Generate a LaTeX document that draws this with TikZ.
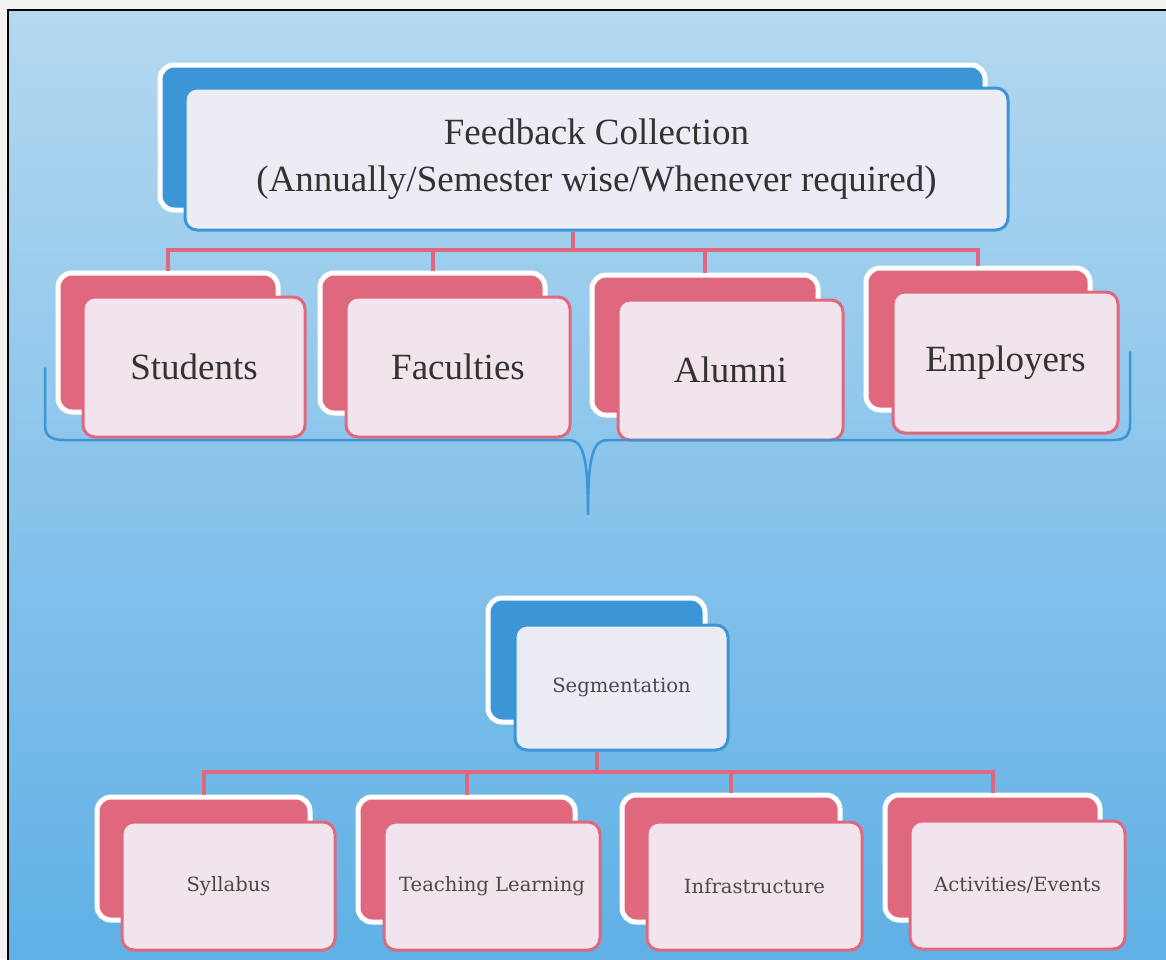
\documentclass[tikz,border=0pt]{standalone}
\usepackage{fontspec}
\setmainfont{Liberation Serif}
\newfontfamily\segfont{DejaVu Serif}
\usepackage{xcolor}
\usepackage{tikz}
\usetikzlibrary{calc}
\definecolor{paper}{HTML}{F2F2F0}
\definecolor{skytop}{HTML}{B4D8F0}
\definecolor{skymid}{HTML}{88C4EA}
\definecolor{skybot}{HTML}{5EB0E6}
\definecolor{rose}{HTML}{E0687E}
\definecolor{ocean}{HTML}{3B95D6}
\definecolor{blush}{HTML}{F2E4EC}
\definecolor{mist}{HTML}{ECECF4}
\definecolor{ink}{HTML}{333333}
\definecolor{inksoft}{HTML}{4A4A4A}
\newcommand\bigtxt{\fontsize{37}{47}\selectfont}
\newcommand\segtxt{\segfont\fontsize{19.6}{23}\selectfont}
\tikzset{
  backred/.style={rectangle, rounded corners=14pt, fill=rose, draw=white, line width=5pt},
  backblue/.style={rectangle, rounded corners=14pt, fill=ocean, draw=white, line width=5pt},
  frontred/.style={rectangle, rounded corners=12pt, fill=blush, draw=rose, line width=3pt, text=ink, font=\bigtxt, align=center},
  frontblue/.style={rectangle, rounded corners=12pt, fill=mist, draw=ocean, line width=3pt, text=ink, font=\bigtxt, align=center},
  frontsmall/.style={text=inksoft, font=\segtxt},
  link/.style={draw=rose, line width=4pt},
  brace/.style={draw=ocean, line width=2.5pt, line cap=round, line join=round},
}

\begin{document}
\begin{tikzpicture}[x=1pt, y=-1pt]
  \useasboundingbox (0,0) rectangle (1166,959);
  \clip (0,0) rectangle (1166,959);
  \fill[paper] (0,0) rectangle (1166,959);
  \shade[top color=skytop, middle color=skymid, bottom color=skybot] (8,10) rectangle (1180,975);
  \draw[black, line width=2pt] (8,975) -- (8,10) -- (1180,10);

  % connectors first, boxes cover their ends
  \coordinate (bus1) at (572.5,250);
  \coordinate (bus2) at (596.5,772);

  \node[backblue, minimum width=825pt, minimum height=145pt] (topB) at (572.5,137.5) {};
  \node[backred, minimum width=220pt, minimum height=139pt] (studB) at (168,342.5) {};
  \node[backred, minimum width=225pt, minimum height=140pt] (facB) at (432.5,343) {};
  \node[backred, minimum width=226pt, minimum height=140pt] (alumB) at (705,345) {};
  \node[backred, minimum width=224pt, minimum height=142pt] (emplB) at (978,339) {};

  \node[frontblue, minimum width=823pt, minimum height=142pt] (topF) at (596.5,159)
    {Feedback Collection\\(Annually/Semester wise/Whenever required)};
  \node[frontred, minimum width=222pt, minimum height=140pt] (studF) at (194,367) {Students};
  \node[frontred, minimum width=224pt, minimum height=140pt] (facF) at (458,367) {Faculties};
  \node[frontred, minimum width=225pt, minimum height=140pt] (alumF) at (730.5,370) {Alumni};
  \node[frontred, minimum width=225pt, minimum height=141pt] (emplF) at (1005.5,362.5) {Employers};

  \node[backblue, minimum width=217pt, minimum height=124pt] (segB) at (596.5,660) {};
  \node[frontblue, frontsmall, minimum width=213pt, minimum height=125pt] (segF) at (621.5,687.5) {Segmentation};

  \node[backred, minimum width=213pt, minimum height=123pt] (sylB) at (203.5,858.5) {};
  \node[backred, minimum width=217pt, minimum height=125pt] (teachB) at (466.5,859.5) {};
  \node[backred, minimum width=218pt, minimum height=127pt] (infraB) at (731,858.5) {};
  \node[backred, minimum width=215pt, minimum height=125pt] (actB) at (992.5,857.5) {};

  \node[frontred, frontsmall, minimum width=213pt, minimum height=128pt] (sylF) at (228.5,886) {Syllabus};
  \node[frontred, frontsmall, minimum width=216pt, minimum height=128pt] (teachF) at (492,886) {Teaching Learning};
  \node[frontred, frontsmall, minimum width=215pt, minimum height=128pt] (infraF) at (754.5,886) {Infrastructure};
  \node[frontred, frontsmall, minimum width=215pt, minimum height=128pt] (actF) at (1017.5,885) {Activities/Events};

  \draw[link] (bus1 |- topF.south) -- (bus1);
  \draw[link] (studB.north) |- (bus1) -| (emplB.north);
  \draw[link] (facB.north) -- (facB.north |- bus1);
  \draw[link] (alumB.north) -- (alumB.north |- bus1);

  \draw[link] (bus2 |- segF.south) -- (bus2);
  \draw[link] (sylB.north) |- (bus2) -| (actB.north);
  \draw[link] (teachB.north) -- (teachB.north |- bus2);
  \draw[link] (infraB.north) -- (infraB.north |- bus2);

  % brace under the four groups
  \draw[brace] (45,368) -- (45,426) .. controls (45,436) and (52,440) .. (64,440)
    -- (568,440) .. controls (582,440) and (588,452) .. (588,514)
    .. controls (588,452) and (594,440) .. (608,440)
    -- (1114,440) .. controls (1126,440) and (1130,434) .. (1130,424) -- (1130,352);
\end{tikzpicture}
\end{document}
